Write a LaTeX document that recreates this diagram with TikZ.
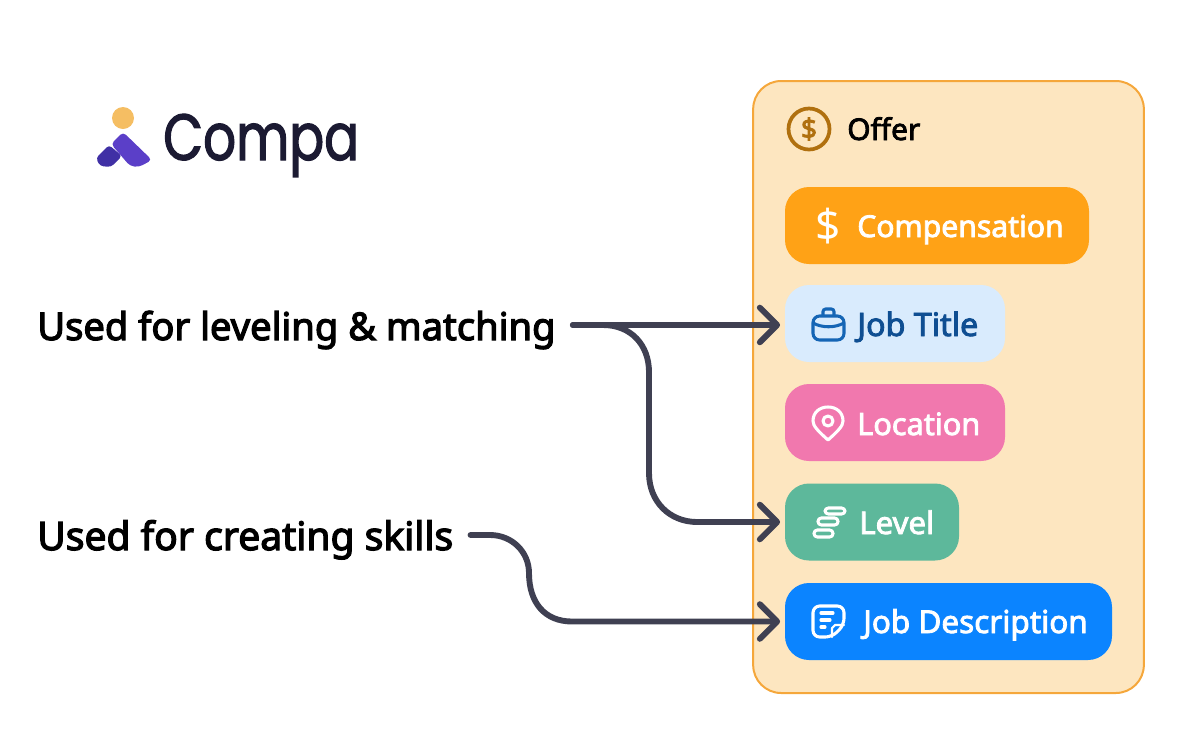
\documentclass[tikz,border=0pt]{standalone}
\usepackage{fontspec}
\usepackage{xcolor}
\usetikzlibrary{arrows.meta,positioning,calc}
\newfontfamily\lblfont[FakeBold=3.2]{Noto Sans}
\newfontfamily\tagfont[FakeBold=2.6]{Noto Sans}
\newfontfamily\coinfont[FakeBold=3]{Noto Sans}
\newfontfamily\logofont[FakeBold=1.8,FakeStretch=0.79]{Poppins}
\definecolor{ink}{HTML}{3F4052}
\definecolor{panelfill}{HTML}{FDE6C0}
\definecolor{paneledge}{HTML}{F5A73B}
\definecolor{cm}{HTML}{FFA216}
\definecolor{jt}{HTML}{D9EBFD}
\definecolor{jtink}{HTML}{0F4E92}
\definecolor{jticon}{HTML}{1565B5}
\definecolor{lo}{HTML}{F178AE}
\definecolor{lv}{HTML}{5DB89B}
\definecolor{jd}{HTML}{0B84FF}
\definecolor{coin}{HTML}{B0700F}
\definecolor{logotext}{HTML}{1B1A32}
\tikzset{
  pill/.style={rounded corners=18pt, minimum height=57.75pt, inner sep=0pt},
  lbl/.style={anchor=base west, inner sep=0pt, font=\lblfont\fontsize{#1}{30}\selectfont},
  tag/.style={anchor=base west, inner sep=0pt, text=white, font=\tagfont\fontsize{#1}{24}\selectfont},
  conn/.style={draw=ink, line width=4.4pt, line cap=round, line join=round,
    -{Straight Barb[length=13pt,width=26pt,round]}, shorten >=3.5pt},
  wicon/.style={draw=white, line width=2.3pt, line cap=round, line join=round},
}
\begin{document}
\begin{tikzpicture}[x=0.75pt,y=-0.75pt]
  \useasboundingbox (0,0) rectangle (1194,740);
  % logo
  \fill[fill={rgb,255:red,245;green,190;blue,99}] (123,118) circle (11);
  \fill[fill={rgb,255:red,91;green,63;blue,200}, rounded corners=3pt] (123,132) -- (152,160) -- (139,167) -- (130,166) -- (111,144) -- cycle;
  \fill[fill={rgb,255:red,64;green,48;blue,165}, rounded corners=2.5pt] (109,145) -- (122,156) -- (111,167) -- (100,166) -- (96,158) -- cycle;
  \node[anchor=base west, inner sep=0pt, text=logotext, font=\logofont\fontsize{49}{49}\selectfont] (logo) at (163,160) {Compa};
  % offer card
  \node[draw=paneledge, fill=panelfill, line width=1.5pt, rounded corners=21pt, minimum width=293pt, minimum height=459pt, inner sep=0pt] (offer) at (948.5,387) {};
  \draw[coin, line width=2.8pt] (809,129) circle (20.5);
  \node[text=coin, inner sep=0pt, font=\coinfont\fontsize{21}{21}\selectfont] (coinsign) at (809,129) {\$};
  \node[tag=22.4, text=black] (offertitle) at (847,140) {Offer};
  % pills
  \node[pill, fill=cm, minimum width=228pt] (comp) at (937,225.5) {};
  \node[pill, fill=jt, minimum width=165pt] (job) at (895,323.5) {};
  \node[pill, fill=lo, minimum width=165pt] (loc) at (895,422.5) {};
  \node[pill, fill=lv, minimum width=130.5pt] (lev) at (872,522) {};
  \node[pill, fill=jd, minimum width=245.25pt] (desc) at (948.5,621.5) {};
  \node[tag=22.6] (comptxt) at (857,237) {Compensation};
  \node[tag=24.2, text=jtink] (jobtxt) at (857,336) {Job Title};
  \node[tag=23] (loctxt) at (857,435) {Location};
  \node[tag=23.4] (levtxt) at (859,534) {Level};
  \node[tag=23.6] (desctxt) at (863,633) {Job Description};
  % icons
  \node[text=white, inner sep=0pt, font=\fontspec{Noto Sans}\fontsize{33}{33}\selectfont] (dollar) at (828,226) {\$};
  \draw[jticon, line width=2.3pt, rounded corners=5pt] (813,316) rectangle (844,340);
  \draw[jticon, line width=2.3pt, rounded corners=2pt] (823,316) -- (823,309) -- (834,309) -- (834,316);
  \draw[jticon, line width=2.3pt] (813,323) .. controls (822,328) and (835,328) .. (844,323);
  \draw[wicon] (828,440) .. controls (818,431) and (813,426) .. (813,421) .. controls (813,412) and (820,407) .. (828,407) .. controls (836,407) and (843,412) .. (843,421) .. controls (843,426) and (838,431) .. (828,440) -- cycle;
  \draw[wicon] (828,421) circle (5);
  \draw[wicon, rounded corners=2.5pt] (825,508) rectangle (845,514);
  \draw[wicon, rounded corners=2.5pt] (818,518) rectangle (838,525);
  \draw[wicon, rounded corners=2.5pt] (814,530) rectangle (833,537);
  \draw[wicon, rounded corners=5pt] (832,637) -- (813,637) -- (813,606) -- (844,606) -- (844,625) -- cycle;
  \draw[wicon] (821,613) -- (833,613) (821,620) -- (830,620) (821,627) -- (825,627);
  \draw[wicon, line width=1.6pt] (844,625) -- (835,625) -- (832,628) -- (832,637);
  % labels and connectors
  \node[lbl=28.6] (lvlmatch) at (37,340) {Used for leveling \& matching};
  \node[lbl=29.3] (skills) at (37,550) {Used for creating skills};
  \draw[conn, shorten <=12.75pt] (lvlmatch.east |- 0,325) -- ([yshift=-1.1pt]job.west);
  \draw[conn, shorten <=12.75pt] (lvlmatch.east |- 0,325) -- (603,325) .. controls (631,325) and (649,345) .. (649,372) -- (649,473) .. controls (649,502) and (670,522) .. (697,522) -- (lev.west);
  \draw[conn, shorten <=12.75pt] (skills.east |- 0,535) -- (490,535) .. controls (512,535) and (529,552) .. (529,573) .. controls (529,603) and (545,621.5) .. (572,621.5) -- (desc.west);
\end{tikzpicture}
\end{document}
